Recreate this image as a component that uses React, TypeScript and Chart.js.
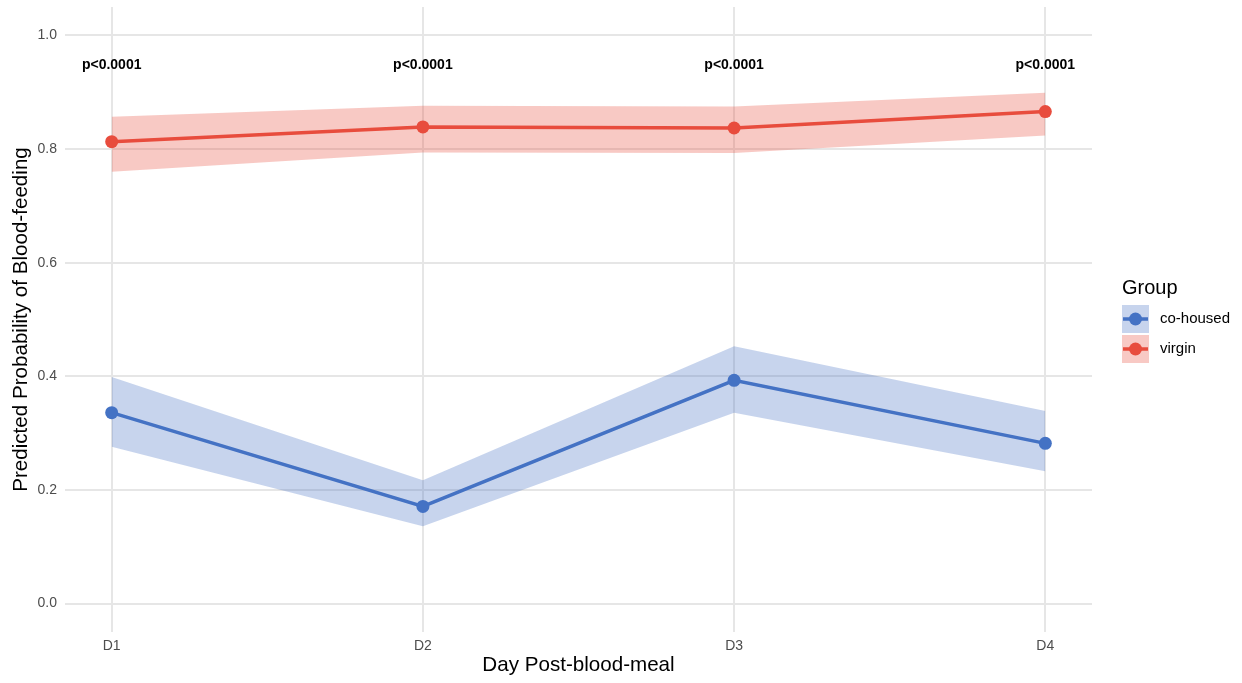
import React, { useEffect, useRef } from "react";
import { Chart, registerables } from "chart.js";

Chart.register(...registerables);

const days = ["D1", "D2", "D3", "D4"];
const dayPos = [1, 2, 3, 4];

const coHousedFit = [0.336, 0.171, 0.393, 0.282];
const coHousedLower = [0.276, 0.136, 0.336, 0.233];
const coHousedUpper = [0.399, 0.217, 0.453, 0.339];

const virginFit = [0.813, 0.839, 0.837, 0.866];
const virginLower = [0.76, 0.794, 0.793, 0.824];
const virginUpper = [0.857, 0.876, 0.875, 0.899];

const pLabels = ["p<0.0001", "p<0.0001", "p<0.0001", "p<0.0001"];
const pLabelY = 0.95;

const yTicks = [0, 0.2, 0.4, 0.6, 0.8, 1.0];
const groupNames = ["co-housed", "virgin"];

const BLUE = "#4472C4";
const RED = "#E84C3D";
const BLUE_FILL = "rgba(68,114,196,0.3)";
const RED_FILL = "rgba(232,76,61,0.3)";
const FONT = '"Liberation Sans", Arial, Helvetica, sans-serif';

const pts = (vals: number[]) => vals.map((v, i) => ({ x: dayPos[i], y: v }));

export default function App() {
  const ref = useRef<HTMLCanvasElement | null>(null);

  useEffect(() => {
    if (!ref.current) return;
    Chart.defaults.font.family = FONT;

    const pLabelPlugin = {
      id: "pLabels",
      afterDatasetsDraw(chart: any) {
        const ctx = chart.ctx;
        const xs = chart.scales.x;
        const ys = chart.scales.y;
        ctx.save();
        ctx.font = `bold 14px ${FONT}`;
        ctx.fillStyle = "#000";
        ctx.textAlign = "center";
        ctx.textBaseline = "middle";
        pLabels.forEach((t, i) => {
          ctx.fillText(t, xs.getPixelForValue(dayPos[i]), ys.getPixelForValue(pLabelY) + 1.5);
        });
        ctx.restore();
      },
    };

    const legendPlugin = {
      id: "customLegend",
      afterDraw(chart: any) {
        const ctx = chart.ctx;
        const left = chart.chartArea.right + 30;
        ctx.save();
        ctx.fillStyle = "#000";
        ctx.font = `20px ${FONT}`;
        ctx.textAlign = "left";
        ctx.textBaseline = "alphabetic";
        ctx.fillText("Group", left, 294);
        const colors = [BLUE, RED];
        const fills = [BLUE_FILL, RED_FILL];
        groupNames.forEach((name, i) => {
          const top = 305 + i * 30;
          ctx.fillStyle = fills[i];
          ctx.fillRect(left, top, 27, 28);
          const cy = top + 14;
          ctx.strokeStyle = colors[i];
          ctx.lineWidth = 3.5;
          ctx.beginPath();
          ctx.moveTo(left + 1, cy);
          ctx.lineTo(left + 26, cy);
          ctx.stroke();
          ctx.fillStyle = colors[i];
          ctx.beginPath();
          ctx.arc(left + 13.5, cy, 6.5, 0, Math.PI * 2);
          ctx.fill();
          ctx.fillStyle = "#000";
          ctx.font = `15px ${FONT}`;
          ctx.textBaseline = "middle";
          ctx.fillText(name, left + 38, cy);
        });
        ctx.restore();
      },
    };

    const chart = new Chart(ref.current, {
      type: "line",
      data: {
        datasets: [
          {
            label: "co-housed lower",
            data: pts(coHousedLower),
            borderWidth: 0,
            pointRadius: 0,
            fill: false,
            order: 2,
          },
          {
            label: "co-housed upper",
            data: pts(coHousedUpper),
            borderWidth: 0,
            pointRadius: 0,
            backgroundColor: BLUE_FILL,
            fill: 0,
            order: 2,
          },
          {
            label: "virgin lower",
            data: pts(virginLower),
            borderWidth: 0,
            pointRadius: 0,
            fill: false,
            order: 2,
          },
          {
            label: "virgin upper",
            data: pts(virginUpper),
            borderWidth: 0,
            pointRadius: 0,
            backgroundColor: RED_FILL,
            fill: 2,
            order: 2,
          },
          {
            label: "co-housed",
            data: pts(coHousedFit),
            borderColor: BLUE,
            backgroundColor: BLUE,
            borderWidth: 3.5,
            pointRadius: 6.5,
            pointBorderWidth: 0,
            pointBackgroundColor: BLUE,
            fill: false,
            order: 1,
          },
          {
            label: "virgin",
            data: pts(virginFit),
            borderColor: RED,
            backgroundColor: RED,
            borderWidth: 3.5,
            pointRadius: 6.5,
            pointBorderWidth: 0,
            pointBackgroundColor: RED,
            fill: false,
            order: 1,
          },
        ],
      },
      options: {
        animation: false,
        responsive: false,
        devicePixelRatio: 1,
        layout: { padding: { top: 7, right: 150, left: 0, bottom: 0 } },
        plugins: {
          legend: { display: false },
          tooltip: { enabled: false },
        },
        scales: {
          x: {
            type: "linear",
            min: 0.85,
            max: 4.15,
            afterBuildTicks: (scale: any) => {
              scale.ticks = dayPos.map((v) => ({ value: v }));
            },
            afterFit: (scale: any) => {
              scale.height = 51;
              scale.paddingLeft = 0;
              scale.paddingRight = 0;
            },
            ticks: {
              callback: (v: any) => days[dayPos.indexOf(Number(v))] ?? "",
              color: "#4D4D4D",
              font: { size: 14 },
              padding: 6,
              maxRotation: 0,
              autoSkip: false,
            },
            grid: { color: "#E6E6E6", lineWidth: 2, drawTicks: false },
            border: { display: false },
            title: {
              display: true,
              text: "Day Post-blood-meal",
              color: "#000",
              font: { size: 20.6 },
              padding: { top: 0, bottom: 5 },
            },
          },
          y: {
            type: "linear",
            min: -0.05,
            max: 1.05,
            afterBuildTicks: (scale: any) => {
              scale.ticks = yTicks.map((v) => ({ value: v }));
            },
            afterFit: (scale: any) => {
              scale.width = 65;
              scale.paddingTop = 0;
              scale.paddingBottom = 0;
            },
            ticks: {
              callback: (v: any) => Number(v).toFixed(1),
              color: "#4D4D4D",
              font: { size: 14 },
              padding: 8,
            },
            grid: { color: "#E6E6E6", lineWidth: 2, drawTicks: false },
            border: { display: false },
            title: {
              display: true,
              text: "Predicted Probability of Blood-feeding",
              color: "#000",
              font: { size: 20.6 },
              padding: { top: 9, bottom: 0 },
            },
          },
        },
      },
      plugins: [pLabelPlugin, legendPlugin],
    } as any);

    return () => chart.destroy();
  }, []);

  return (
    <div style={{ position: "absolute", left: 0, top: 0, width: 1242, height: 683, background: "#fff" }}>
      <canvas ref={ref} width={1242} height={683} style={{ display: "block" }} />
    </div>
  );
}
